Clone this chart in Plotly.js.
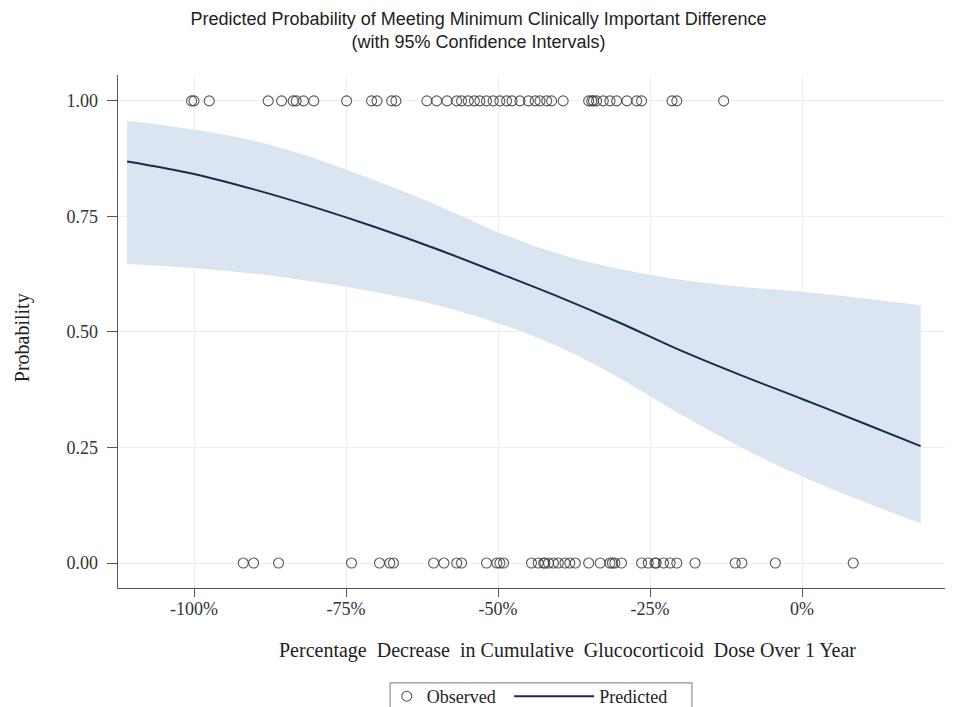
<!DOCTYPE html>
<html><head><meta charset="utf-8">
<script src="https://cdn.plot.ly/plotly-3.0.1.min.js"></script>
<style>body{margin:0;background:#fff}#chart{width:957px;height:707px}</style>
</head><body><div id="chart"></div>
<script>
// Observed outcomes (x = % decrease in cumulative GC dose)
const metX = [-100.4,-100.0,-97.5,-87.8,-85.6,-83.7,-83.2,-82.0,-80.3,-74.9,-70.8,-69.9,-67.5,-66.8,-61.7,-60.1,-58.4,-56.8,-56.0,-54.9,-53.9,-53.0,-51.9,-50.8,-49.7,-48.6,-47.7,-46.4,-45.0,-43.9,-43.1,-42.0,-41.2,-39.3,-35.1,-34.6,-34.3,-33.8,-32.7,-31.6,-30.5,-28.8,-27.2,-26.4,-21.4,-20.6,-12.9];
const notMetX = [-91.9,-90.2,-86.1,-74.1,-69.5,-67.8,-67.2,-60.6,-58.9,-56.8,-56.0,-51.9,-50.2,-49.7,-49.1,-44.5,-43.4,-42.5,-42.3,-41.7,-40.9,-40.1,-39.0,-38.2,-37.3,-35.1,-33.2,-31.6,-31.2,-30.8,-29.7,-26.4,-25.3,-24.2,-24.0,-22.8,-21.7,-20.6,-17.6,-11.0,-9.9,-4.4,8.4];
// Predicted curve and 95% CI
const curveX    = [-111, -100, -90, -80, -70, -60, -50, -40, -30, -20, -10, 0, 10, 19.5];
const predicted = [0.869,0.842,0.808,0.769,0.726,0.679,0.628,0.576,0.520,0.460,0.406,0.355,0.303,0.253];
const upperCI   = [0.957,0.938,0.913,0.875,0.827,0.774,0.716,0.669,0.636,0.613,0.598,0.587,0.573,0.558];
const lowerCI   = [0.647,0.638,0.626,0.608,0.586,0.558,0.519,0.468,0.400,0.322,0.250,0.187,0.133,0.086];
// Ticks
const xTickVals = [-100,-75,-50,-25,0];
const xTickText = ['-100%','-75%','-50%','-25%','0%'];
const yTickVals = [0,0.25,0.5,0.75,1];
const yTickText = ['0.00','0.25','0.50','0.75','1.00'];

const serif = 'Liberation Serif, Times New Roman, serif';
const sans = 'Liberation Sans, Arial, sans-serif';

const traces = [
  {x: curveX, y: lowerCI, type:'scatter', mode:'lines', line:{width:0, shape:'spline', smoothing:1}, showlegend:false, hoverinfo:'skip'},
  {x: curveX, y: upperCI, type:'scatter', mode:'lines', line:{width:0, shape:'spline', smoothing:1}, fill:'tonexty', fillcolor:'#dbe5f2', showlegend:false, hoverinfo:'skip'},
  {x: curveX, y: predicted, type:'scatter', mode:'lines', name:'Predicted', legend:'legend2', line:{color:'#1b2b4f', width:2, shape:'spline', smoothing:1}},
  {x: metX.concat(notMetX), y: metX.map(()=>1).concat(notMetX.map(()=>0)), type:'scatter', mode:'markers', name:'Observed', legend:'legend',
   marker:{symbol:'circle-open', size:10, color:'rgba(60,60,60,0.85)', line:{width:1.1}}}
];

const layout = {
  width: 957, height: 707,
  paper_bgcolor:'#fff', plot_bgcolor:'#fff',
  margin:{l:118, r:12, t:75, b:119, autoexpand:false},
  title:{text:'Predicted Probability of Meeting Minimum Clinically Important Difference<br>(with 95% Confidence Intervals)',
    font:{family:sans, size:18, color:'#222'}, x:0.5, xref:'container', xanchor:'center', y:0.965, yref:'container', yanchor:'middle'},
  xaxis:{range:[-112.5,23.5], tickvals:xTickVals, ticktext:xTickText, showline:true, linecolor:'#555', linewidth:1.3,
    ticks:'outside', ticklen:8, tickcolor:'#555', showgrid:true, gridcolor:'#efefef', zeroline:false, ticklabelstandoff:-4,
    tickfont:{family:serif, size:18, color:'#333'}},
  yaxis:{range:[-0.054,1.056], tickvals:yTickVals, ticktext:yTickText, showline:true, linecolor:'#555', linewidth:1.3,
    ticks:'outside', ticklen:10, tickcolor:'#555', showgrid:true, gridcolor:'#efefef', zeroline:false, ticklabelstandoff:5,
    tickfont:{family:serif, size:18, color:'#333'}},
  showlegend:true,
  legend:{orientation:'h', x:0.325, xanchor:'left', y:-0.1754, yanchor:'top', borderwidth:0, bgcolor:'rgba(0,0,0,0)',
    font:{family:serif, size:18, color:'#222'}, itemwidth:30},
  legend2:{orientation:'h', x:0.473, xanchor:'left', y:-0.1754, yanchor:'top', borderwidth:0, bgcolor:'rgba(0,0,0,0)',
    font:{family:serif, size:18, color:'#222'}, itemwidth:80},
  shapes:[
    {type:'rect', xref:'paper', yref:'paper', x0:0.329, x1:0.694, y0:-0.185, y1:-0.245, line:{color:'#777', width:1}, fillcolor:'rgba(0,0,0,0)'}
  ],
  annotations:[
    {text:'Percentage\u00A0 Decrease\u00A0 in Cumulative\u00A0 Glucocorticoid\u00A0 Dose Over 1 Year', xref:'paper', yref:'paper',
     x:0.544, y:-0.1209, xanchor:'center', yanchor:'middle', showarrow:false, font:{family:serif, size:20, color:'#222'}},
    {text:'Probability', xref:'paper', yref:'paper', x:-0.116, y:0.487, xanchor:'center', yanchor:'middle', textangle:-90,
     showarrow:false, font:{family:serif, size:20, color:'#222'}}
  ]
};
Plotly.newPlot('chart', traces, layout, {displayModeBar:false, staticPlot:true});
</script></body></html>
